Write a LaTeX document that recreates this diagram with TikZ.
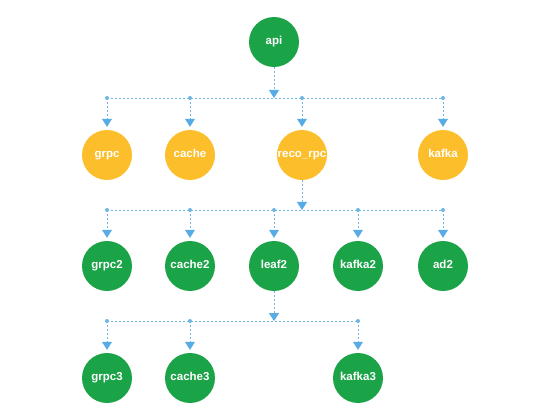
\documentclass[tikz,border=0pt]{standalone}
\usepackage{fontspec}
\setmainfont{Liberation Sans}
\usepackage{tikz}
\usetikzlibrary{arrows.meta, positioning}

\definecolor{svcgreen}{RGB}{27,163,72}
\definecolor{svcyellow}{RGB}{252,190,42}
\definecolor{linkblue}{RGB}{112,182,226}
\definecolor{tipblue}{RGB}{88,172,230}

\tikzset{
    svc/.style={circle, minimum size=50pt, inner sep=0pt, text=white,
        text height=8.3pt, text depth=2.4pt,
        font=\bfseries\fontsize{11.5}{13}\selectfont},
    green svc/.style={svc, fill=svcgreen},
    yellow svc/.style={svc, fill=svcyellow},
    link/.style={draw=linkblue, line width=0.8pt, dash pattern=on 2pt off 2pt},
    tolink/.style={link, -{Triangle[width=10pt, length=8pt, color=tipblue]}},
    tosvc/.style={tolink, shorten >=3pt},
    jdot/.style={circle, fill=linkblue, inner sep=0pt, minimum size=4pt}
}

\begin{document}
\begin{tikzpicture}[x=1pt, y=-1pt]
    \useasboundingbox (0,0) rectangle (550,420);

    % Tầng 1
    \node[green svc] (api) at (274,42) {api};
    % Tầng 2
    \node[yellow svc] (grpc) at (107,155) {grpc};
    \node[yellow svc] (cache) at (190,155) {cache};
    \node[yellow svc] (reco) at (302,155) {reco\_rpc};
    \node[yellow svc] (kafka) at (443,155) {kafka};
    % Tầng 3
    \node[green svc] (grpc2) at (107,266) {grpc2};
    \node[green svc] (cache2) at (190,266) {cache2};
    \node[green svc] (leaf2) at (274,266) {leaf2};
    \node[green svc] (kafka2) at (358,266) {kafka2};
    \node[green svc] (ad2) at (443,266) {ad2};
    % Tầng 4
    \node[green svc] (grpc3) at (107,378) {grpc3};
    \node[green svc] (cache3) at (190,378) {cache3};
    \node[green svc] (kafka3) at (358,378) {kafka3};

    % Đường nối api -> tầng 2
    \coordinate (busA) at (274,98);
    \foreach \n in {grpc, cache, reco, kafka}
        \coordinate (busA-\n) at (\n |- busA);
    \draw[link] (busA-grpc) -- (busA-kafka);
    \draw[tolink] (api) -- (busA);
    \foreach \n in {grpc, cache, reco, kafka} {
        \node[jdot] at (busA-\n) {};
        \draw[tosvc] (busA-\n) -- (\n);
    }

    % Đường nối reco_rpc -> tầng 3
    \coordinate (busB) at (302,210);
    \foreach \n in {grpc2, cache2, leaf2, kafka2, ad2}
        \coordinate (busB-\n) at (\n |- busB);
    \draw[link] (busB-grpc2) -- (busB-ad2);
    \draw[tolink] (reco) -- (busB);
    \foreach \n in {grpc2, cache2, leaf2, kafka2, ad2} {
        \node[jdot] at (busB-\n) {};
        \draw[tosvc] (busB-\n) -- (\n);
    }

    % Đường nối leaf2 -> tầng 4
    \coordinate (busC) at (274,321);
    \foreach \n in {grpc3, cache3, kafka3}
        \coordinate (busC-\n) at (\n |- busC);
    \draw[link] (busC-grpc3) -- (busC-kafka3);
    \draw[tolink] (leaf2) -- (busC);
    \foreach \n in {grpc3, cache3, kafka3} {
        \node[jdot] at (busC-\n) {};
        \draw[tosvc] (busC-\n) -- (\n);
    }

\end{tikzpicture}
\end{document}
